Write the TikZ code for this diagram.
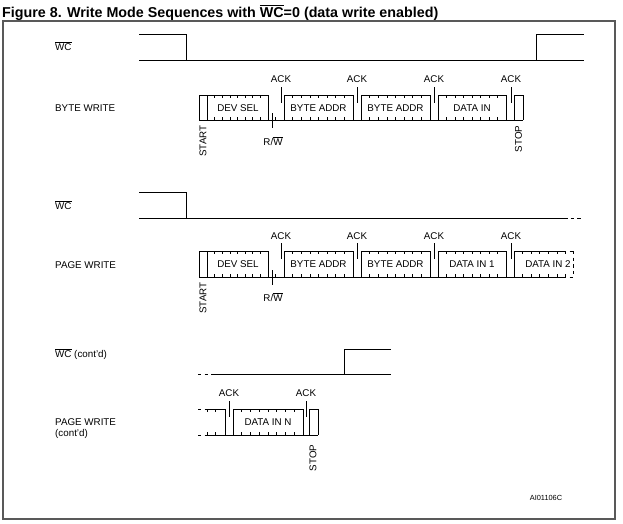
\documentclass[tikz,border=0pt]{standalone}
\usepackage{fontspec}
\setmainfont{Liberation Sans}
\newcommand{\ovl}[1]{$\overline{\mbox{#1}}$}
\tikzset{
  sig/.style={line width=0.9pt, black},
  dsig/.style={sig, dash pattern=on 3.4pt off 3.2pt},
  tk/.style={line width=0.7pt, black},
  lbl/.style={font=\fontsize{9.8}{11}\selectfont, inner sep=0pt},
  rlbl/.style={lbl, rotate=90},
  frame/.style={line width=1.3pt, draw=black!65},
}
% byte box: x1, x2, top, bottom
\newcommand{\bytebox}[4]{%
  \draw[sig] (#1,#4) -- (#1,#3) -- (#2,#3) -- (#2,#4);
  \foreach \k in {1,...,7}{%
    \draw[tk] ({#1+\k*(#2-#1)/8},#3) -- ++(0,3);
    \draw[tk] ({#1+\k*(#2-#1)/8},#4) -- ++(0,-3);
  }%
}
\newcommand{\plainbox}[4]{%
  \draw[sig] (#1,#4) -- (#1,#3) -- (#2,#3) -- (#2,#4);
}
\begin{document}
\begin{tikzpicture}[x=1pt,y=-1pt]
\useasboundingbox (0,0) rectangle (623,523);
\fill[white] (0,0) rectangle (623,523);
% frame and title
\draw[frame] (3,21) rectangle (615,519);
\node[anchor=base west, inner sep=0pt, font=\bfseries\fontsize{14.3}{16}\selectfont] (title) at (2,17)
  {Figure 8. Write Mode Sequences with \ovl{WC}=0 (data write enabled)};

% ================= BYTE WRITE =================
\node[lbl, anchor=base west] (wc1) at (55,50.5) {\ovl{WC}};
\draw[sig] (139,34) -- (186,34) -- (186,60);
\draw[sig] (139,60) -- (584,60);
\draw[sig] (536,60) -- (536,34) -- (584,34);

\node[lbl, anchor=base west] (bw) at (55,111.5) {BYTE WRITE};
\def\T{95}\def\B{120}
\draw[sig] (199,\B) -- (523,\B);
\plainbox{199}{207}{\T}{\B}
\bytebox{207}{268}{\T}{\B}
\draw[tk] (275,\B) -- ++(0,-3);
\draw[sig] (272,\B-7) -- (272,\B+8);
\bytebox{284}{353}{\T}{\B}
\bytebox{361}{430}{\T}{\B}
\bytebox{438}{506}{\T}{\B}
\plainbox{514}{523}{\T}{\B}
\foreach \x in {281,357,434,511}{\draw[sig] (\x,\T-8) -- (\x,\T+8);}
\node[lbl, anchor=base] (bwa1) at (281,82.5) {ACK};
\node[lbl, anchor=base] (bwa2) at (357,82.5) {ACK};
\node[lbl, anchor=base] (bwa3) at (434,82.5) {ACK};
\node[lbl, anchor=base] (bwa4) at (511,82.5) {ACK};
\node[lbl, anchor=base] (bwd1) at (238,111.5) {DEV SEL};
\node[lbl, anchor=base] (bwd2) at (318.5,111.5) {BYTE ADDR};
\node[lbl, anchor=base] (bwd3) at (395.5,111.5) {BYTE ADDR};
\node[lbl, anchor=base] (bwd4) at (472,111.5) {DATA IN};
\node[lbl, anchor=base] (bwrw) at (273,145.5) {R/\ovl{W}};
\node[rlbl] (bwst) at (203,141) {START};
\node[rlbl] (bwsp) at (518.5,139) {STOP};

% ================= PAGE WRITE =================
\node[lbl, anchor=base west] (wc2) at (55,209.5) {\ovl{WC}};
\draw[sig] (139,192) -- (186,192) -- (186,218);
\draw[sig] (139,218) -- (568,218);
\draw[dsig] (570.7,218) -- (581,218);

\node[lbl, anchor=base west] (pw) at (55,268.5) {PAGE WRITE};
\def\T{251}\def\B{277}
\draw[sig] (199,\B) -- (563,\B);
\draw[dsig] (563,\B) -- (573,\B);
\plainbox{199}{207}{\T}{\B}
\bytebox{207}{268}{\T}{\B}
\draw[tk] (275,\B) -- ++(0,-3);
\draw[sig] (272,\B-7) -- (272,\B+8);
\bytebox{284}{353}{\T}{\B}
\bytebox{361}{430}{\T}{\B}
\bytebox{438}{506}{\T}{\B}
\draw[sig] (514,\B) -- (514,\T) -- (563,\T);
\draw[dsig] (563,\T) -- (573,\T);
\draw[dsig] (573,\T) -- (573,\B);
\foreach \k in {1,...,6}{%
  \draw[tk] ({514+\k*8.6},\T) -- ++(0,3);
  \draw[tk] ({514+\k*8.6},\B) -- ++(0,-3);
}
\foreach \x in {281,357,434,511}{\draw[sig] (\x,\T-8) -- (\x,\T+8);}
\node[lbl, anchor=base] (pwa1) at (281,239.5) {ACK};
\node[lbl, anchor=base] (pwa2) at (357,239.5) {ACK};
\node[lbl, anchor=base] (pwa3) at (434,239.5) {ACK};
\node[lbl, anchor=base] (pwa4) at (511,239.5) {ACK};
\node[lbl, anchor=base] (pwd1) at (238,267.5) {DEV SEL};
\node[lbl, anchor=base] (pwd2) at (318.5,267.5) {BYTE ADDR};
\node[lbl, anchor=base] (pwd3) at (395.5,267.5) {BYTE ADDR};
\node[lbl, anchor=base] (pwd4) at (472,267.5) {DATA IN 1};
\node[lbl, anchor=base] (pwd5) at (548,267.5) {DATA IN 2};
\node[lbl, anchor=base] (pwrw) at (273,301.5) {R/\ovl{W}};
\node[rlbl] (pwst) at (203,298) {START};

% ================= CONT'D =================
\node[lbl, anchor=base west] (wc3) at (55,357.5) {\ovl{WC} (cont'd)};
\draw[dsig] (198,374) -- (208.5,374);
\draw[sig] (211,374) -- (391,374);
\draw[sig] (344,374) -- (344,349) -- (391,349);

\node[lbl, anchor=base west] (pwc) at (55,425.5) {PAGE WRITE};
\node[lbl, anchor=base west] (pwc2) at (55,436.5) {(cont'd)};
\def\T{409}\def\B{435}
\draw[dsig] (198,\T) -- (207,\T);
\draw[dsig] (198,\B) -- (207,\B);
\draw[sig] (207,\B) -- (318,\B);
\draw[sig] (207,\T) -- (225,\T) -- (225,\B);
\foreach \x in {207,215}{%
  \draw[tk] (\x,\T) -- ++(0,3);
  \draw[tk] (\x,\B) -- ++(0,-3);
}
\bytebox{233}{303}{\T}{\B}
\plainbox{309}{318}{\T}{\B}
\foreach \x in {229,306}{\draw[sig] (\x,\T-8) -- (\x,\T+8);}
\node[lbl, anchor=base] (ca1) at (229,396.5) {ACK};
\node[lbl, anchor=base] (ca2) at (306,396.5) {ACK};
\node[lbl, anchor=base] (cd) at (268,425.5) {DATA IN N};
\node[rlbl] (csp) at (313,458) {STOP};

\node[anchor=base, inner sep=0pt, font=\fontsize{7.4}{9}\selectfont] (ref) at (546,500) {AI01106C};
\end{tikzpicture}
\end{document}
